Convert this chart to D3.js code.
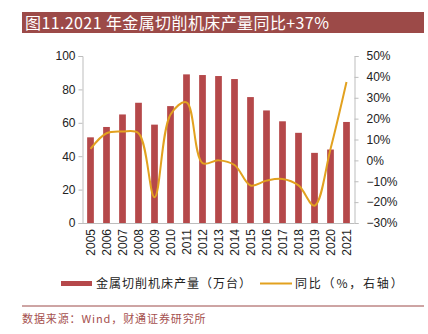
<!DOCTYPE html>
<html>
<head>
<meta charset="utf-8">
<title>金属切削机床产量</title>
<style>
  body { margin: 0; background: #fff; }
  svg { display: block; }
  .tick text { font-family: Arial, "Liberation Sans", sans-serif; font-size: 12px; fill: #222; }
</style>
</head>
<body>
<svg width="428" height="334"></svg>
<script src="https://cdn.jsdelivr.net/npm/d3@7"></script>
<script>
var years = ["2005","2006","2007","2008","2009","2010","2011","2012","2013","2014","2015","2016","2017","2018","2019","2020","2021"];
var output = [51.3, 57.5, 65.0, 72.0, 58.9, 70.0, 89.0, 88.6, 88.0, 86.2, 75.4, 67.4, 60.9, 54.0, 42.0, 44.0, 60.5];
var growth = [5.5, 13.0, 13.8, 13.0, -17.7, 22.0, 27.8, -1.3, 0.0, -2.2, -12.0, -9.7, -8.9, -12.0, -21.7, 5.4, 37.5];
var leftTicks = [0, 20, 40, 60, 80, 100];
var rightTicks = [-30, -20, -10, 0, 10, 20, 30, 40, 50];

var svg = d3.select("svg");
var red = "#b5484a", gold = "#e2a11f", banner = "#9c4a48";
var cjk = "'Noto Sans CJK SC', sans-serif";

// title banner
svg.append("rect").attr("x", 22).attr("y", 12).attr("width", 402).attr("height", 21).attr("fill", banner);
svg.append("text").attr("x", 25).attr("y", 28.5).attr("fill", "#fff")
    .style("font-family", cjk).style("font-size", "16px").style("letter-spacing", "0.4px")
    .text("图11.2021 年金属切削机床产量同比+37%");

var x = d3.scaleBand().domain(years).range([82.5, 354.5]).paddingInner(0.58).paddingOuter(0.29);
var yL = d3.scaleLinear().domain([0, 100]).range([223, 56]);
var yR = d3.scaleLinear().domain([-30, 50]).range([223, 56]);

// left axis
var gl = svg.append("g").attr("transform", "translate(82.5,0)")
    .call(d3.axisLeft(yL).tickValues(leftTicks).tickSize(4).tickPadding(3));
gl.select(".domain").attr("stroke", "#bdbdbd");
gl.selectAll(".tick line").attr("stroke", "#bdbdbd");

// right axis
var gr = svg.append("g").attr("transform", "translate(354.5,0)")
    .call(d3.axisRight(yR).tickValues(rightTicks).tickSize(4).tickPadding(8)
        .tickFormat(function (d) { return (d < 0 ? "\u2212" + (-d) : d) + "%"; }));
gr.select(".domain").attr("stroke", "#bdbdbd");
gr.selectAll(".tick line").attr("stroke", "#bdbdbd");

// bottom axis line
svg.append("line").attr("x1", 82.5).attr("x2", 354.5).attr("y1", 223.5).attr("y2", 223.5).attr("stroke", "#bdbdbd");

// bars
svg.append("g").selectAll("rect").data(years).enter().append("rect")
    .attr("x", function (d) { return x(d); })
    .attr("width", x.bandwidth())
    .attr("y", function (d, i) { return yL(output[i]); })
    .attr("height", function (d, i) { return yL(0) - yL(output[i]); })
    .attr("fill", red);

// growth line, smoothed
var line = d3.line()
    .x(function (d, i) { return x(years[i]) + x.bandwidth() / 2; })
    .y(function (d) { return yR(d); })
    .curve(d3.curveCatmullRom.alpha(0.5));
svg.append("path").datum(growth).attr("d", line)
    .attr("fill", "none").attr("stroke", gold).attr("stroke-width", 2);

// year labels
svg.append("g").selectAll("text").data(years).enter().append("text")
    .attr("transform", function (d) { return "translate(" + (x(d) + x.bandwidth() / 2) + ",229) rotate(-90)"; })
    .attr("text-anchor", "end").attr("dy", "0.35em")
    .style("font-family", "Arial, 'Liberation Sans', sans-serif").style("font-size", "12px").attr("fill", "#222")
    .text(function (d) { return d; });

// legend
var lg = svg.append("g").style("font-family", cjk).style("font-size", "12px")
    .style("letter-spacing", "1px").attr("fill", "#222");
lg.append("rect").attr("x", 61).attr("y", 281).attr("width", 31).attr("height", 5).attr("fill", red);
lg.append("text").attr("x", 96).attr("y", 288).text("金属切削机床产量（万台）");
lg.append("line").attr("x1", 260).attr("x2", 292).attr("y1", 283.5).attr("y2", 283.5).attr("stroke", gold).attr("stroke-width", 2);
lg.append("text").attr("x", 295).attr("y", 288).style("letter-spacing", "1.8px").text("同比（%，右轴）");

// source
svg.append("line").attr("x1", 22).attr("x2", 424).attr("y1", 306).attr("y2", 306).attr("stroke", banner).attr("stroke-width", 1);
svg.append("text").attr("x", 22).attr("y", 323).attr("fill", "#a5504e")
    .style("font-family", cjk).style("font-size", "11px").style("letter-spacing", "0.9px")
    .text("数据来源：Wind，财通证券研究所");
</script>
</body>
</html>
